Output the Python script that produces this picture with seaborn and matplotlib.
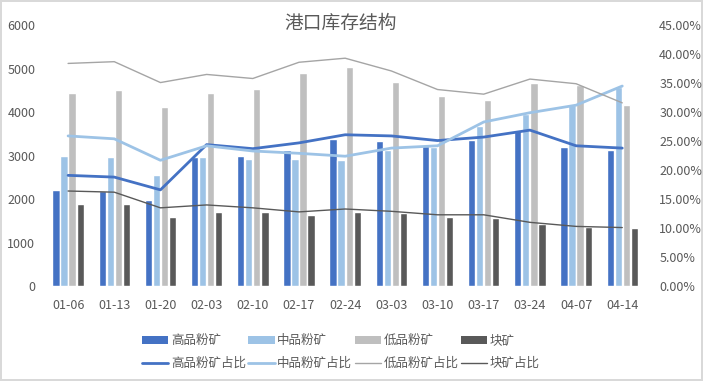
import numpy as np
import pandas as pd
import matplotlib
matplotlib.use('Agg')
import matplotlib.pyplot as plt
from matplotlib.patches import Patch
from matplotlib.lines import Line2D
from matplotlib.ticker import PercentFormatter
import seaborn as sns

# données
dates = ['01-06', '01-13', '01-20', '02-03', '02-10', '02-17', '02-24',
         '03-03', '03-10', '03-17', '03-24', '04-07', '04-14']
high = [2205, 2182, 1975, 2963, 2986, 3124, 3376, 3330, 3215, 3353, 3568, 3200, 3140]
mid = [2986, 2963, 2550, 2963, 2917, 2917, 2894, 3140, 3200, 3675, 3950, 4157, 4578]
low = [4440, 4502, 4111, 4440, 4525, 4892, 5030, 4693, 4364, 4272, 4670, 4616, 4157]
lump = [1883, 1883, 1585, 1700, 1700, 1631, 1700, 1684, 1592, 1577, 1439, 1363, 1340]

high_r = [19.1, 18.8, 16.6, 24.4, 23.7, 24.7, 26.1, 25.9, 25.1, 25.7, 26.9, 24.2, 23.8]
mid_r = [25.9, 25.4, 21.7, 24.2, 23.3, 22.9, 22.4, 23.8, 24.2, 28.3, 29.9, 31.2, 34.5]
low_r = [38.4, 38.7, 35.1, 36.5, 35.8, 38.6, 39.3, 37.1, 33.9, 33.1, 35.7, 34.9, 31.6]
lump_r = [16.4, 16.2, 13.5, 14.0, 13.5, 12.8, 13.3, 12.9, 12.3, 12.3, 11.0, 10.3, 10.1]

bar_names = ['高品粉矿', '中品粉矿', '低品粉矿', '块矿']
line_names = ['高品粉矿占比', '中品粉矿占比', '低品粉矿占比', '块矿占比']
bar_colors = ['#4472C4', '#9DC3E6', '#BFBFBF', '#595959']
line_colors = ['#4472C4', '#9DC3E6', '#A5A5A5', '#595959']
line_widths = [2.0, 2.0, 1.0, 1.0]

sns.set_style('white')
plt.rcParams['font.family'] = ['Noto Sans CJK SC', 'DejaVu Sans']
txt = '#595959'

df = pd.DataFrame({'date': dates, '高品粉矿': high, '中品粉矿': mid,
                   '低品粉矿': low, '块矿': lump})
long = df.melt(id_vars='date', var_name='类型', value_name='库存')

fig = plt.figure(figsize=(7.03, 3.81), dpi=100)
fig.patch.set_edgecolor('#D9D9D9')
fig.patch.set_linewidth(1.5)
ax = fig.add_axes([0.064, 0.249, 0.854, 0.685])

sns.barplot(data=long, x='date', y='库存', hue='类型', hue_order=bar_names,
            palette=bar_colors, width=0.7, gap=0.1, ax=ax, legend=False,
            saturation=1)
ax.set_ylim(0, 6000)
ax.set_yticks(range(0, 6001, 1000))
ax.set_xlim(-0.5, len(dates) - 0.5)
ax.set_xlabel('')
ax.set_ylabel('')

ax2 = ax.twinx()
pos = np.arange(len(dates))
for vals, c, lw in zip([high_r, mid_r, low_r, lump_r], line_colors, line_widths):
    sns.lineplot(x=pos, y=vals, ax=ax2, color=c, linewidth=lw, legend=False)
ax2.set_ylim(0, 45)
ax2.set_yticks(np.arange(0, 46, 5))
ax2.yaxis.set_major_formatter(PercentFormatter(decimals=2))

for a in (ax, ax2):
    for s in a.spines.values():
        s.set_visible(False)
    a.tick_params(length=0, labelsize=9, colors=txt)
ax.tick_params(axis='y', pad=7)
ax.tick_params(axis='x', pad=9)
ax2.tick_params(axis='y', pad=10)

fig.text(0.485, 0.938, '港口库存结构', ha='center', va='center',
         fontsize=13.5, color=txt)

handles = []
labels = []
for bn, ln, bc, lc, lw in zip(bar_names, line_names, bar_colors, line_colors, line_widths):
    handles.append(Patch(facecolor=bc, edgecolor='none'))
    labels.append(bn)
    handles.append(Line2D([0], [0], color=lc, linewidth=lw))
    labels.append(ln)

leg = fig.legend(handles, labels, ncol=4, loc='center', bbox_to_anchor=(0.485, 0.076),
                 frameon=False, fontsize=9, handlelength=2.1, handletextpad=0.2,
                 columnspacing=0.2, labelspacing=0.8, handleheight=0.6)
for t in leg.get_texts():
    t.set_color(txt)

fig.savefig('out.png', dpi=100)
